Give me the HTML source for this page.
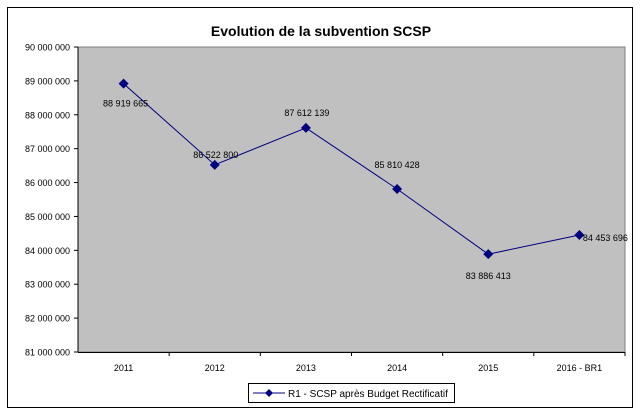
<!DOCTYPE html>
<html><head><meta charset="utf-8"><style>
body{margin:0;background:#fff;}
svg{display:block;font-family:"Liberation Sans",Arial,sans-serif;}
</style></head><body>
<svg id="c" width="641" height="414">
<rect x="7.5" y="7.5" width="625" height="400" fill="#fff" stroke="#000"/>
<text x="321" y="36" text-anchor="middle" font-size="14" font-weight="bold">Evolution de la subvention SCSP</text>
<rect x="78" y="47" width="547" height="305" fill="#c0c0c0" stroke="#808080"/>
<g id="g"></g>
<g>
<rect x="248.5" y="383.5" width="206" height="19" fill="#fff" stroke="#000"/>
<line x1="253" y1="393" x2="285" y2="393" stroke="#000080"/>
<path d="M269 389L273 393L269 397L265 393Z" fill="#000080"/>
<text x="288" y="397" font-size="10">R1 - SCSP après Budget Rectificatif</text>
</g>
</svg>
<script>
const categories=["2011","2012","2013","2014","2015","2016 - BR1"];
const values=[88919665,86522800,87612139,85810428,83886413,84453696];
const labels=["88 919 665","86 522 800","87 612 139","85 810 428","83 886 413","84 453 696"];
const yTicks=[81000000,82000000,83000000,84000000,85000000,86000000,87000000,88000000,89000000,90000000];
const yTickLabels=["81 000 000","82 000 000","83 000 000","84 000 000","85 000 000","86 000 000","87 000 000","88 000 000","89 000 000","90 000 000"];
const NS="http://www.w3.org/2000/svg",g=document.getElementById('g');
const L=78,R=625,T=47,B=352,ymin=81000000,ymax=90000000;
const y=v=>B-(v-ymin)/(ymax-ymin)*(B-T);
const bw=(R-L)/categories.length;
const x=i=>L+bw*(i+0.5);
function mk(t,a){const e=document.createElementNS(NS,t);for(const k in a)e.setAttribute(k,a[k]);g.appendChild(e);return e;}
let ax=mk('line',{x1:L,y1:T,x2:L,y2:B,stroke:'#000'});


let bx=mk('line',{x1:L,y1:B+0.5,x2:R,y2:B+0.5,stroke:'#000'});


yTicks.forEach((v,i)=>{
 const t=mk('text',{x:L-8,y:y(v)+3.5,'text-anchor':'end','font-size':9});t.textContent=yTickLabels[i];
 
 
 const tk=mk('line',{x1:L-4,y1:y(v),x2:L,y2:y(v),stroke:'#000'});
 
 
});
categories.forEach((c,i)=>{
 const tk=mk('line',{x1:L+bw*(i+1),y1:B,x2:L+bw*(i+1),y2:B+4,stroke:'#000'});
 
 
 const t=mk('text',{x:x(i),y:371,'text-anchor':'middle','font-size':9});t.textContent=c;
 
 
});
const ln=mk('polyline',{points:values.map((v,i)=>x(i)+','+y(v)).join(' '),fill:'none',stroke:'#000080'});


const pos=[[2,20],[1,-10],[1,-15],[0,-24],[0,22],[26,3]];
values.forEach((v,i)=>{
 const px=x(i),py=y(v);
 const m=mk('path',{d:`M${px} ${py-5}L${px+5} ${py}L${px} ${py+5}L${px-5} ${py}Z`,fill:'#000080'});
 
 
 const t=mk('text',{x:px+pos[i][0],y:py+pos[i][1]+3,'text-anchor':'middle','font-size':9});t.textContent=labels[i];
 
 
});
</script>
</body></html>
